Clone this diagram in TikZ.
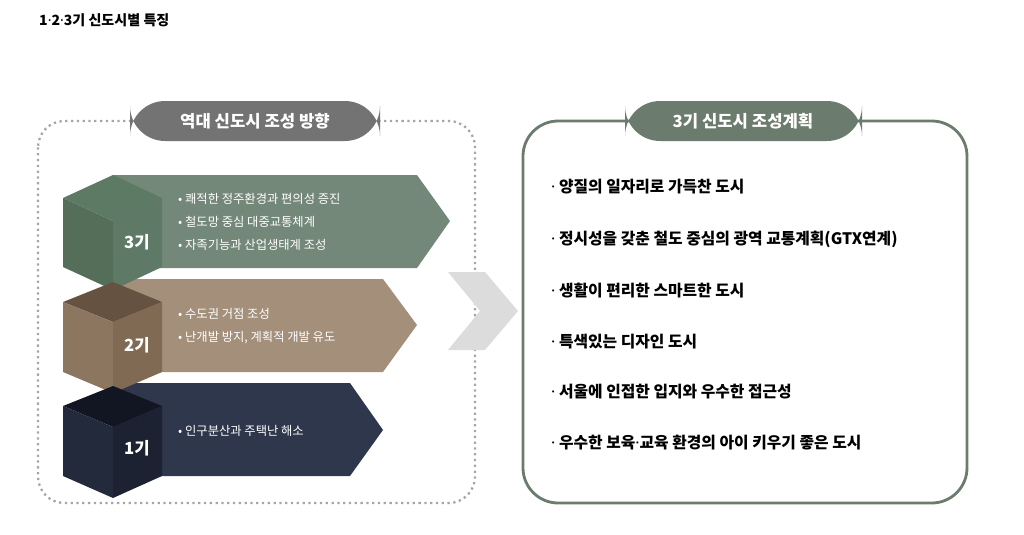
\documentclass[tikz,border=0pt]{standalone}
\usepackage{fontspec}
\setmainfont{Noto Sans CJK KR}
\newfontfamily\latinfont{Noto Sans}
\newcommand{\mdot}{{\latinfont\bfseries ·}}
\definecolor{hdrgray}{HTML}{737373}
\definecolor{hdrgreen}{HTML}{6B7B6D}
\definecolor{bandA}{HTML}{738878}
\definecolor{bandB}{HTML}{A38F7A}
\definecolor{bandC}{HTML}{2E374B}
\definecolor{chev}{HTML}{DCDCDC}
\definecolor{cubeAtop}{HTML}{5D7A64}
\definecolor{cubeAleft}{HTML}{546E5A}
\definecolor{cubeAright}{HTML}{5E7A66}
\definecolor{cubeBtop}{HTML}{665240}
\definecolor{cubeBleft}{HTML}{8C7660}
\definecolor{cubeBright}{HTML}{806A54}
\definecolor{cubeCtop}{HTML}{121622}
\definecolor{cubeCleft}{HTML}{232A3C}
\definecolor{cubeCright}{HTML}{1C2232}
\tikzset{
  pill/.style={rounded corners=20, text=white, font=\bfseries\fontsize{9.5}{11}\selectfont},
  band/.style={anchor=west, text=white, font=\fontsize{7}{8}\selectfont},
  gen/.style={text=white, font=\bfseries\fontsize{9.5}{11}\selectfont},
  item/.style={anchor=west, font=\bfseries\fontsize{9}{11}\selectfont}
}
\begin{document}
\begin{tikzpicture}[x=0.02cm, y=-0.02cm]
\useasboundingbox (0,0) rectangle (1024,534);
% Title
\node[anchor=west, font=\bfseries\fontsize{8}{10}\selectfont] (title) at (33,20) {1\mdot2\mdot3기 신도시별 특징};

% Left box
\draw[gray!70, line width=1.3pt, dotted, rounded corners=15] (38,121) rectangle (475,503);
\fill[hdrgray, rounded corners=20] (130,101) rectangle (380,141);
\node[pill] (lefthdr) at (255,121) {역대 신도시 조성 방향};

% Bands
\fill[bandA] (113,175) -- (417,175) -- (450,221) -- (417,268) -- (113,268) -- cycle;
\fill[bandB] (113,279) -- (383,279) -- (417,325) -- (383,372) -- (113,372) -- cycle;
\fill[bandC] (113,383) -- (350,383) -- (383,430) -- (350,476) -- (113,476) -- cycle;

% Cubes (top to bottom: 3, 2, 1)
\fill[cubeAtop] (113,175) -- (162,198) -- (113,221) -- (63,198) -- cycle;
\fill[cubeAleft] (63,198) -- (113,221) -- (113,290) -- (63,267) -- cycle;
\fill[cubeAright] (113,221) -- (162,198) -- (162,267) -- (113,290) -- cycle;
\node[gen] (g3) at (137,242) {3기};

\fill[cubeBtop] (113,282) -- (162,302) -- (113,322) -- (63,302) -- cycle;
\fill[cubeBleft] (63,302) -- (113,322) -- (113,393) -- (63,372) -- cycle;
\fill[cubeBright] (113,322) -- (162,302) -- (162,372) -- (113,393) -- cycle;
\node[gen] (g2) at (137,345) {2기};

\fill[cubeCtop] (113,386) -- (162,406) -- (113,427) -- (63,406) -- cycle;
\fill[cubeCleft] (63,406) -- (113,427) -- (113,498) -- (63,476) -- cycle;
\fill[cubeCright] (113,427) -- (162,406) -- (162,476) -- (113,498) -- cycle;
\node[gen] (g1) at (137,448) {1기};

% Band texts
\node[band] (a1) at (172,199) {• 쾌적한 정주환경과 편의성 증진};
\node[band] (a2) at (172,222) {• 철도망 중심 대중교통체계};
\node[band] (a3) at (172,245) {• 자족기능과 산업생태계 조성};
\node[band] (b1) at (172,314) {• 수도권 거점 조성};
\node[band] (b2) at (172,338) {• 난개발 방지, 계획적 개발 유도};
\node[band] (c1) at (172,431) {• 인구분산과 주택난 해소};

% Chevron
\fill[chev] (448,272) -- (485,272) -- (518,311) -- (485,350) -- (448,350) -- (480,311) -- cycle;

% Right box
\draw[hdrgreen, line width=1.6pt, rounded corners=20] (523,121) rectangle (967,503);
\fill[hdrgreen, rounded corners=20] (625,101) rectangle (862,141);
\node[pill] (righthdr) at (743,121) {3기 신도시 조성계획};
\node[item] (r1) at (545,187) {\mdot\ 양질의 일자리로 가득찬 도시};
\node[item] (r2) at (545,239) {\mdot\ 정시성을 갖춘 철도 중심의 광역 교통계획(GTX연계)};
\node[item] (r3) at (545,291) {\mdot\ 생활이 편리한 스마트한 도시};
\node[item] (r4) at (545,342) {\mdot\ 특색있는 디자인 도시};
\node[item] (r5) at (545,392) {\mdot\ 서울에 인접한 입지와 우수한 접근성};
\node[item] (r6) at (545,443) {\mdot\ 우수한 보육\mdot 교육 환경의 아이 키우기 좋은 도시};
\end{tikzpicture}
\end{document}
